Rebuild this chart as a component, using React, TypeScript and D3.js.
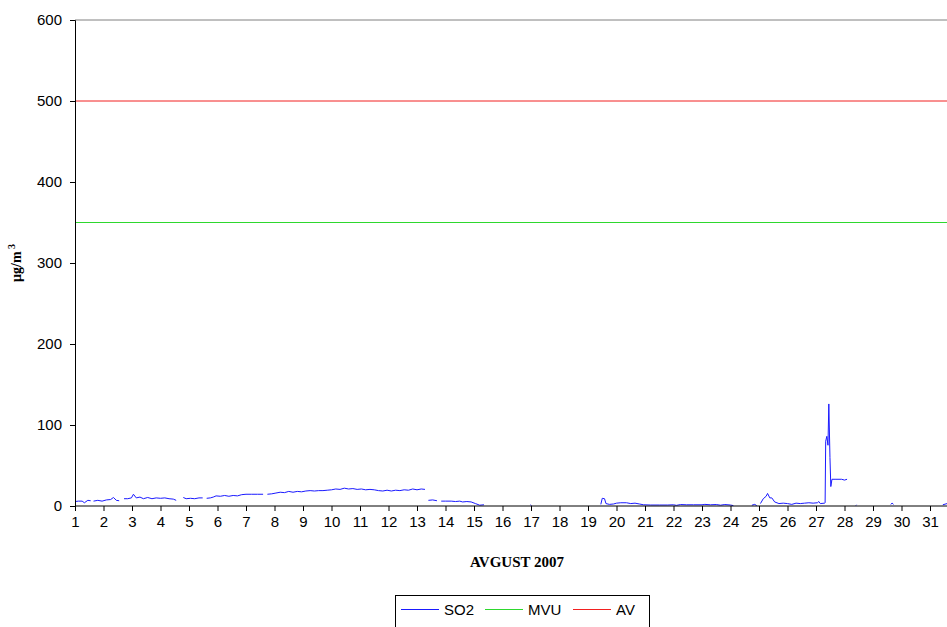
import React, { useEffect, useRef } from 'react';
import * as d3 from 'd3';

// day ticks along the x axis
const DAYS = d3.range(1, 32);
const Y_TICKS = [0, 100, 200, 300, 400, 500, 600];

// limit values
const MVU = 350;
const AV = 500;

// SO2 readings: [day of month (fractional), µg/m3]; null marks a gap in the record
const SO2: Array<[number, number | null]> = [
  [1.0, 5.5], [1.12, 6], [1.25, 6], [1.33, 4], [1.45, 7], [1.55, 6.5], [1.6, null],
  [1.65, 6], [1.8, 7], [1.95, 6], [2.1, 7.5], [2.25, 8], [2.35, 10.5], [2.45, 7], [2.55, 6.5], [2.6, null],
  [2.72, 9], [2.85, 9], [2.98, 10], [3.05, 14.5], [3.15, 10], [3.28, 11], [3.4, 9], [3.55, 10.5],
  [3.7, 9], [3.85, 10], [4.0, 9.5], [4.15, 10], [4.3, 9], [4.45, 8.5], [4.55, 7], [4.62, null],
  [4.8, 10.5], [4.9, 9], [5.05, 9.5], [5.2, 9], [5.35, 10], [5.48, 10], [5.52, null],
  [5.62, 9.5], [5.75, 10], [5.85, 11], [5.95, 12.5], [6.1, 12], [6.25, 13], [6.4, 12], [6.55, 13],
  [6.7, 12.5], [6.85, 14], [7.0, 14.5], [7.2, 14.5], [7.4, 14.5], [7.6, 14.5], [7.7, null],
  [7.75, 14.5], [7.9, 15], [8.05, 16], [8.2, 17], [8.35, 16.5], [8.5, 18], [8.65, 17], [8.8, 18],
  [8.95, 17.5], [9.1, 18.5], [9.25, 19], [9.4, 18.5], [9.55, 19], [9.7, 19], [9.85, 19.5], [10.0, 20],
  [10.15, 21], [10.3, 20.5], [10.45, 22], [10.6, 21], [10.75, 21.5], [10.9, 20.5], [11.05, 21],
  [11.2, 20], [11.35, 20.5], [11.5, 20], [11.65, 19], [11.8, 18.5], [11.95, 19.5], [12.1, 18.5],
  [12.25, 19.5], [12.4, 19], [12.55, 20], [12.7, 19.5], [12.85, 21], [13.0, 20], [13.15, 21],
  [13.28, 20.5], [13.32, null],
  [13.4, 7], [13.55, 7.5], [13.7, 6.5], [13.8, null],
  [13.85, 6], [14.0, 6], [14.2, 6], [14.35, 5.5], [14.5, 6], [14.6, 5], [14.75, 5.5], [14.9, 5],
  [15.05, 3], [15.2, 1], [15.35, 1.5], [15.4, null],
  [16.98, 1.5], [17.02, 0.5], [17.05, null],
  [19.45, 2], [19.5, 9.5], [19.58, 9], [19.63, 3], [19.75, 2], [19.9, 2.5], [20.0, 3.5], [20.15, 4],
  [20.35, 4], [20.5, 3], [20.65, 3.5], [20.8, 2.5], [20.95, 1.5], [21.2, 1.2], [21.5, 1.2], [21.8, 1.2],
  [22.0, 1.5], [22.1, 0.8], [22.25, 1.8], [22.45, 1.5], [22.7, 1.5], [23.0, 1.5], [23.1, 2], [23.3, 1.5],
  [23.5, 1.8], [23.65, 1], [23.8, 1.8], [24.0, 1.2], [24.1, 0.5], [24.15, null],
  [24.75, 1], [24.85, 2], [24.92, 0.5], [24.95, null],
  [25.05, 3], [25.15, 9], [25.25, 12], [25.3, 15.5], [25.38, 10], [25.45, 10], [25.55, 5], [25.7, 3],
  [25.85, 3.5], [26.0, 3], [26.15, 2], [26.3, 3.5], [26.45, 3], [26.6, 3.5], [26.75, 4], [26.9, 3.5],
  [27.05, 4], [27.1, 5.5], [27.15, 3], [27.3, 3.5], [27.32, 4], [27.34, 80], [27.38, 86], [27.42, 75],
  [27.45, 126], [27.49, 60], [27.52, 24], [27.56, 33], [27.7, 33], [27.9, 33], [28.0, 32], [28.09, 33],
  [28.12, null],
  [28.4, 0.5], [28.42, 1.5], [28.44, null],
  [29.62, 2], [29.67, 3.5], [29.72, 2], [29.74, null],
  [31.45, 1.5], [31.6, 3]
];

const LEGEND = [
  { label: 'SO2', color: '#1a1aff' },
  { label: 'MVU', color: '#2ed82e' },
  { label: 'AV', color: '#f22020' }
];

const App: React.FC = () => {
  const svgRef = useRef<SVGSVGElement>(null);

  useEffect(() => {
    if (!svgRef.current) return;
    document.body.style.margin = '0';

    const width = 947;
    const height = 627;
    const svg = d3.select(svgRef.current);
    svg.selectAll('*').remove();
    svg.attr('width', width).attr('height', height);

    const left = 75;
    const top = 20;
    const bottom = 506;
    const dayWidth = 28.5;

    // axis runs 1 .. 32 (Aug 1 to Sep 1), right part is cut off by the picture edge
    const x = d3.scaleLinear().domain([1, 32]).range([left, left + 31 * dayWidth]);
    const y = d3.scaleLinear().domain([0, 600]).range([bottom, top]);

    const font = 'Arial, "Liberation Sans", sans-serif';
    const serif = '"Times New Roman", "Liberation Serif", serif';

    // top border of plot area
    svg.append('line')
      .attr('x1', left).attr('x2', width)
      .attr('y1', y(600)).attr('y2', y(600))
      .attr('stroke', '#808080').attr('stroke-width', 1);

    // limit lines
    svg.append('line')
      .attr('x1', left).attr('x2', width)
      .attr('y1', y(AV)).attr('y2', y(AV))
      .attr('stroke', LEGEND[2].color).attr('stroke-width', 1);
    svg.append('line')
      .attr('x1', left).attr('x2', width)
      .attr('y1', y(MVU)).attr('y2', y(MVU))
      .attr('stroke', LEGEND[1].color).attr('stroke-width', 1);

    // SO2 series
    const line = d3.line<[number, number | null]>()
      .defined(d => d[1] !== null)
      .x(d => x(d[0]))
      .y(d => y(d[1] as number));
    svg.append('path')
      .datum(SO2)
      .attr('d', line)
      .attr('fill', 'none')
      .attr('stroke', LEGEND[0].color)
      .attr('stroke-width', 1);

    // y axis
    const yAxis = svg.append('g')
      .attr('transform', `translate(${left},0)`)
      .call(d3.axisLeft(y).tickValues(Y_TICKS).tickSize(5).tickPadding(8).tickFormat(d3.format('d')));
    yAxis.select('.domain').attr('stroke', '#000');
    yAxis.selectAll('text').style('font-family', font).style('font-size', '15px').attr('fill', '#000');

    // x axis
    const xAxis = svg.append('g')
      .attr('transform', `translate(0,${bottom})`)
      .call(d3.axisBottom(x).tickValues(DAYS).tickSize(5).tickPadding(5).tickFormat(d3.format('d')));
    xAxis.select('.domain').attr('stroke', '#000').attr('d', `M${left},0H${width}`);
    xAxis.selectAll('text').style('font-family', font).style('font-size', '15px').attr('fill', '#000');

    // axis titles
    svg.append('text')
      .attr('transform', `translate(21,${(top + bottom) / 2}) rotate(-90)`)
      .attr('text-anchor', 'middle')
      .style('font-family', serif)
      .style('font-size', '14px')
      .style('font-weight', 'bold')
      .html('µg/m<tspan dy="-6" font-size="10px"> 3</tspan>');

    svg.append('text')
      .attr('x', 517)
      .attr('y', 567)
      .attr('text-anchor', 'middle')
      .style('font-family', serif)
      .style('font-size', '15px')
      .style('font-weight', 'bold')
      .text('AVGUST 2007');

    // legend
    const legend = svg.append('g');
    legend.append('rect')
      .attr('x', 395.5).attr('y', 595.5)
      .attr('width', 254).attr('height', 40)
      .attr('fill', 'none').attr('stroke', '#000');
    const legendX = [401, 485, 573];
    LEGEND.forEach((d, i) => {
      legend.append('line')
        .attr('x1', legendX[i]).attr('x2', legendX[i] + 38)
        .attr('y1', 609.5).attr('y2', 609.5)
        .attr('stroke', d.color).attr('stroke-width', 1.2);
      legend.append('text')
        .attr('x', legendX[i] + 43)
        .attr('y', 615)
        .style('font-family', font)
        .style('font-size', '15px')
        .text(d.label);
    });
  }, []);

  return (
    <div style={{ position: 'absolute', left: 0, top: 0, width: 947, height: 627, overflow: 'hidden' }}>
      <svg ref={svgRef} />
    </div>
  );
};

export default App;
